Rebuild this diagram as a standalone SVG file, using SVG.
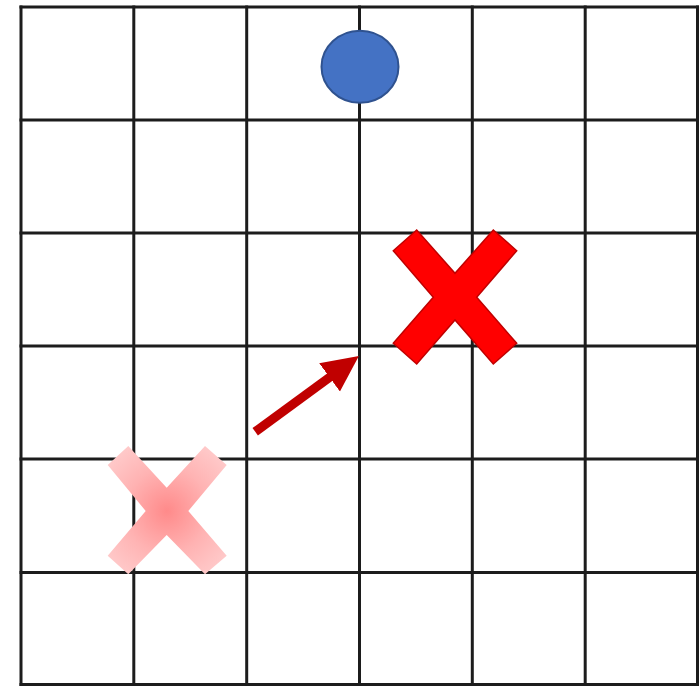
<svg xmlns="http://www.w3.org/2000/svg" width="699" height="686" viewBox="0 0 699 686">
  <style>
    .grid line { stroke: #1c1c1c; stroke-width: 3; }
    .cross-solid { fill: #FF0000; stroke: #C00000; stroke-width: 1.5; }
    .cross-ghost { fill: url(#ghostGrad); }
    .move { stroke: #C00000; stroke-width: 9.2; fill: none; }
  </style>
  <defs>
    <radialGradient id="ghostGrad" gradientUnits="userSpaceOnUse" cx="167" cy="511" r="85">
      <stop offset="0" stop-color="#FF8A8A"/>
      <stop offset="0.5" stop-color="#FFB3B3"/>
      <stop offset="1" stop-color="#FFD0D0"/>
    </radialGradient>
    <marker id="arrowHead" markerUnits="userSpaceOnUse" markerWidth="37" markerHeight="36" refX="0.8" refY="17.6" orient="auto" viewBox="0 0 37 36">
      <path d="M0,0 L36.3,17.6 L0,35.2 Z" fill="#C00000"/>
    </marker>
  </defs>
  <rect width="699" height="686" fill="#FFFFFF"/>
  <g id="grid" class="grid">
    <line x1="21" y1="5.5" x2="21" y2="686"/>
    <line x1="133.8" y1="5.5" x2="133.8" y2="686"/>
    <line x1="246.7" y1="5.5" x2="246.7" y2="686"/>
    <line x1="359.5" y1="5.5" x2="359.5" y2="686"/>
    <line x1="472.3" y1="5.5" x2="472.3" y2="686"/>
    <line x1="585.2" y1="5.5" x2="585.2" y2="686"/>
    <line x1="697.5" y1="5.5" x2="697.5" y2="686"/>
    <line x1="19.5" y1="7" x2="699" y2="7"/>
    <line x1="19.5" y1="120" x2="699" y2="120"/>
    <line x1="19.5" y1="233" x2="699" y2="233"/>
    <line x1="19.5" y1="346" x2="699" y2="346"/>
    <line x1="19.5" y1="459" x2="699" y2="459"/>
    <line x1="19.5" y1="572.5" x2="699" y2="572.5"/>
    <line x1="19.5" y1="684.5" x2="699" y2="684.5"/>
  </g>
  <g id="ball">
    <ellipse cx="360" cy="66.7" rx="38.5" ry="36" fill="#4472C4" stroke="#2F528F" stroke-width="2"/>
  </g>
  <g id="ghost-cross">
    <polygon class="cross-ghost" points="107.7,465 128.3,446 166.7,487.7 205,446 226.7,465 188.3,511 226.7,555.7 205,574.3 166.7,535 128.3,574.3 107.7,555.7 145.7,511"/>
  </g>
  <g id="solid-cross">
    <polygon class="cross-solid" points="393.3,250.7 416.7,230 455,273.3 493.3,230 516.7,250.7 476.7,297.3 516.7,343.3 493.3,364 455,320 416.7,364 393.3,343.3 433.3,297.3"/>
  </g>
  <g id="connectors">
    <path class="move" d="M255.2,431.7 L330.2,376.9" marker-end="url(#arrowHead)"/>
  </g>
</svg>
